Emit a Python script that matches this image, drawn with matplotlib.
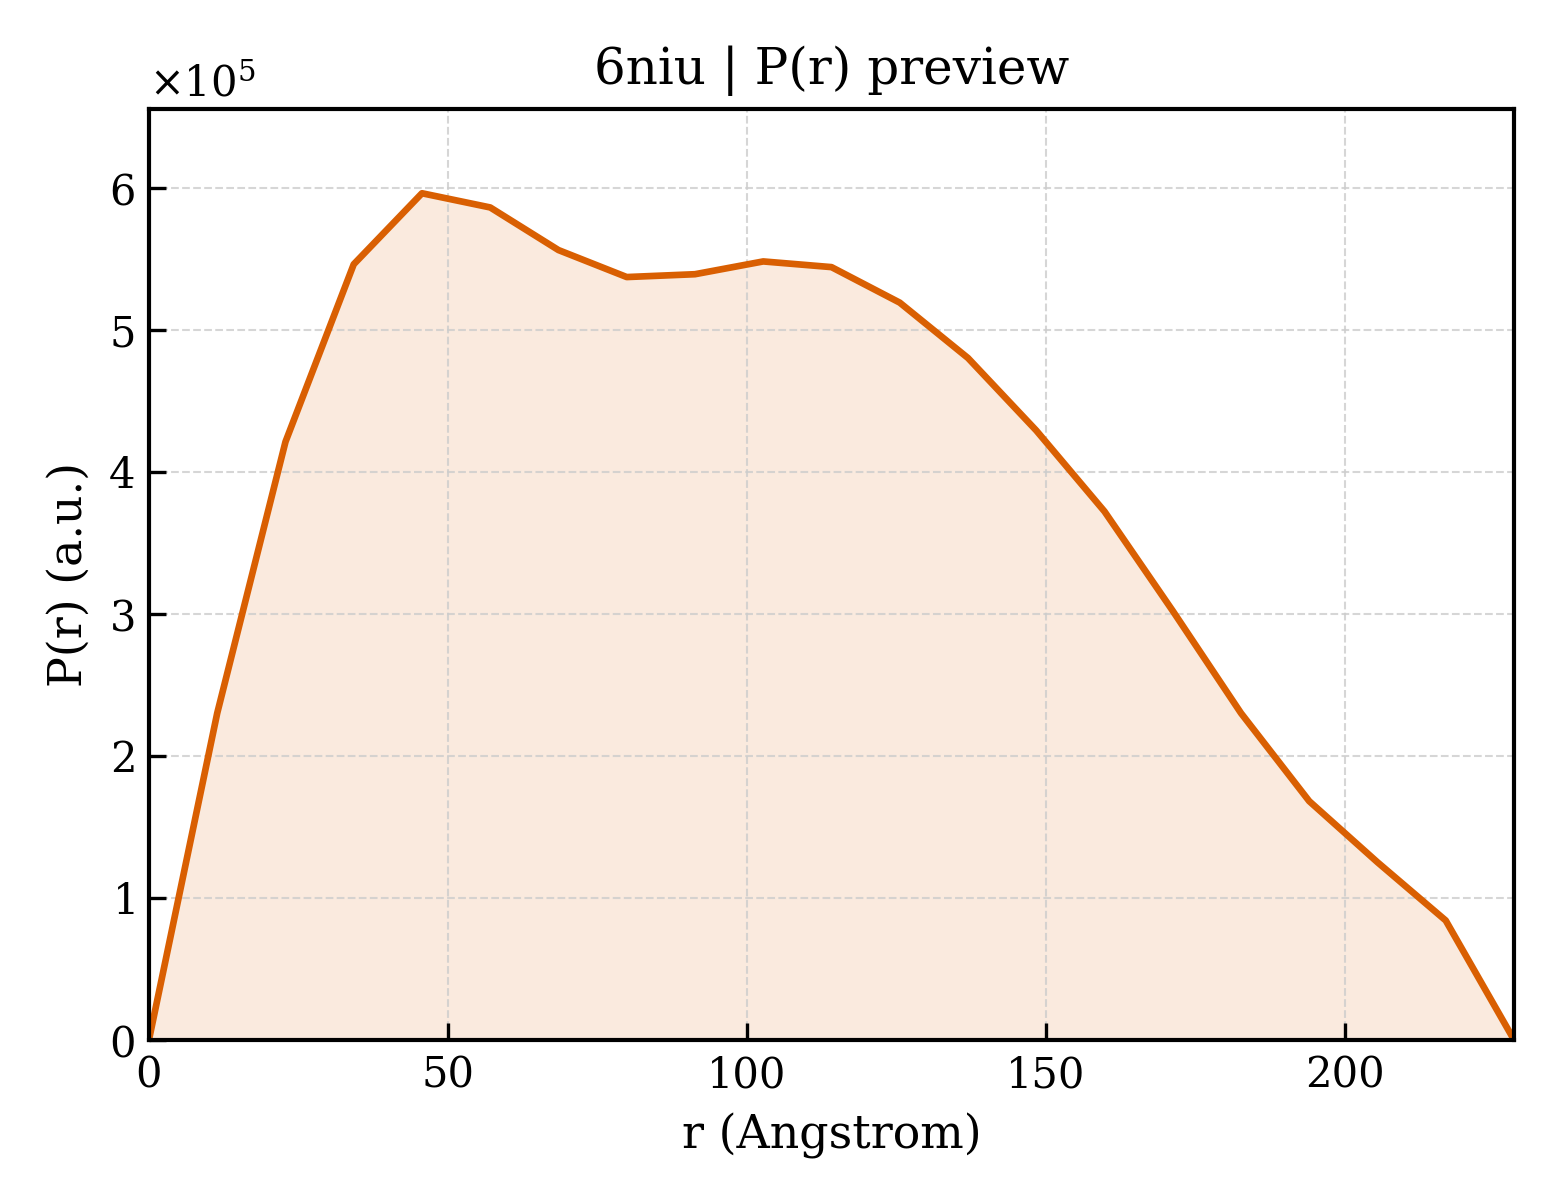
import numpy as np
import matplotlib
matplotlib.use("Agg")
import matplotlib.pyplot as plt

plt.rcParams['font.family'] = ['DejaVu Serif']
plt.rcParams['mathtext.fontset'] = 'dejavuserif'

r_max = 228.3
n_points = 21
r = np.linspace(0, r_max, n_points)
pr = [0.0, 2.30, 4.21, 5.46, 5.96, 5.86, 5.56, 5.37, 5.39, 5.48, 5.44,
      5.19, 4.80, 4.29, 3.72, 3.02, 2.30, 1.68, 1.25, 0.84, 0.0]
pr = np.array(pr) * 1e5

color = '#d95f02'

fig, ax = plt.subplots(figsize=(5.2, 4.0), dpi=300)
ax.fill_between(r, 0, pr, color=color, alpha=0.13, linewidth=0)
ax.plot(r, pr, color=color, linewidth=1.6)
ax.set_xlim(0, r_max)
ax.set_ylim(0, pr.max() * 1.1)
ax.set_xlabel('r (Angstrom)', fontsize=11)
ax.set_ylabel('P(r) (a.u.)', fontsize=11)
ax.set_title('6niu | P(r) preview', fontsize=12)
ax.ticklabel_format(axis='y', style='sci', scilimits=(0, 0), useMathText=True)
ax.yaxis.get_offset_text().set_fontsize(10)
ax.tick_params(direction='in', labelsize=10, width=0.8, length=4)
ax.grid(True, linestyle='--', linewidth=0.5, color='#cccccc', alpha=0.8)
for s in ax.spines.values():
    s.set_linewidth(1.0)
fig.subplots_adjust(left=0.0955, right=0.9705, bottom=0.1335, top=0.9095)
fig.savefig('out.png', dpi=300)
